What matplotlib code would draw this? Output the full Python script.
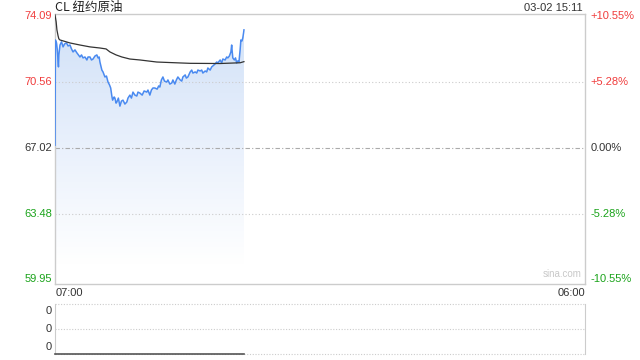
import numpy as np
import matplotlib.pyplot as plt
from matplotlib.colors import LinearSegmentedColormap

plt.rcParams['font.family'] = ['Noto Sans CJK SC', 'DejaVu Sans']
NUM_FONT = ['Liberation Sans', 'DejaVu Sans']

# minutes since 07:00 and last price
minutes = [0, 1, 4, 6, 9, 10, 13, 17, 21, 25, 30, 34, 39, 43, 47, 52, 57, 61, 65, 69,
           73, 78, 83, 86, 91, 95, 99, 104, 109, 112, 115, 117, 122, 125, 130, 134, 138,
           142, 145, 148, 150, 154, 156, 159, 161, 165, 169, 173, 177, 182, 187, 190, 195,
           199, 203, 208, 213, 216, 221, 227, 232, 239, 242, 247, 251, 255, 260, 266, 270,
           273, 277, 281, 285, 291, 294, 299, 304, 307, 312, 316, 320, 326, 330, 333, 339,
           342, 346, 352, 356, 359, 365, 369, 372, 378, 382, 385, 391, 395, 398, 404, 408,
           411, 417, 421, 424, 430, 434, 437, 443, 447, 450, 454, 458, 460, 461, 463, 467,
           470, 473, 476, 479, 482, 484, 487, 489, 491, 492]
price = [67.18, 72.81, 72.65, 72.28, 71.37, 72.01, 72.54, 72.71, 72.44, 72.60, 72.65, 72.49,
         72.54, 72.33, 72.17, 72.28, 72.12, 72.01, 71.90, 72.01, 71.85, 71.90, 71.74, 71.90,
         71.90, 71.74, 71.79, 71.95, 72.01, 71.85, 71.90, 71.63, 71.20, 71.10, 70.83, 70.88,
         70.56, 70.40, 70.24, 69.81, 69.59, 69.76, 69.70, 69.43, 69.49, 69.70, 69.27, 69.54,
         69.59, 69.38, 69.49, 69.70, 69.86, 69.70, 70.02, 69.86, 69.81, 70.02, 69.97, 69.86,
         70.08, 70.02, 70.13, 69.86, 70.13, 70.24, 70.24, 70.18, 70.35, 70.29, 70.67, 70.83,
         70.61, 70.56, 70.67, 70.45, 70.51, 70.67, 70.45, 70.67, 70.83, 70.67, 70.61, 70.83,
         70.94, 70.77, 70.83, 71.10, 71.20, 71.04, 71.10, 71.04, 71.20, 71.15, 71.20, 71.04,
         71.15, 71.10, 71.31, 71.20, 71.37, 71.42, 71.53, 71.63, 71.58, 71.74, 71.58, 71.79,
         71.74, 71.90, 71.85, 71.95, 72.17, 72.54, 72.28, 71.85, 71.74, 71.85, 71.58, 71.69,
         71.63, 72.28, 72.81, 72.76, 72.92, 73.19, 73.35]

# average price line
avg_minutes = [0, 3, 5, 8, 10, 13, 39, 65, 91, 117, 133, 143, 159, 174, 195, 221, 265,
               326, 352, 430, 482, 492]
avg_price = [74.15, 73.78, 73.35, 73.03, 72.87, 72.81, 72.65, 72.54, 72.44, 72.38, 72.33,
             72.17, 72.01, 71.90, 71.79, 71.74, 71.63, 71.58, 71.56, 71.55, 71.59, 71.65]

prev_close = 67.02
left_ticks = [74.09, 70.56, 67.02, 63.48, 59.95]
right_labels = ['+10.55%', '+5.28%', '0.00%', '-5.28%', '-10.55%']
tick_colors = ['#f03c3c', '#f03c3c', '#333333', '#1aa31a', '#1aa31a']

fig = plt.figure(figsize=(6.4, 3.6), dpi=100)
ax = fig.add_axes([55 / 640, 1 - 284 / 360, 530 / 640, 270 / 360])
ax.set_xlim(0, 1380)
ax.set_ylim(59.75, 74.2)

# gradient fill under the price line
base = 60.8
poly = ax.fill_between(minutes, price, base, color='none', lw=0)
cmap = LinearSegmentedColormap.from_list('fade', ['#ffffff', '#eaf1fc', '#d4e3f8'])
grad = np.linspace(0, 1, 256).reshape(-1, 1)
img = ax.imshow(grad, cmap=cmap, aspect='auto', origin='lower',
                extent=[0, max(minutes), base, 73.0], zorder=1)
img.set_clip_path(poly.get_paths()[0], transform=ax.transData)
ax.set_xlim(0, 1380)
ax.set_ylim(59.75, 74.2)

ax.plot(minutes, price, color='#4a8af0', lw=1.1, zorder=3)
ax.plot(avg_minutes, avg_price, color='#333333', lw=0.9, zorder=4)

ax.axhline(prev_close, color='#aaaaaa', lw=0.8, ls=(0, (4, 2, 1, 2)), zorder=2)
for v in [70.56, 63.48]:
    ax.axhline(v, color='#cccccc', lw=0.8, ls=(0, (1, 2)), zorder=2)

for s in ax.spines.values():
    s.set_color('#cccccc')
    s.set_linewidth(1)
ax.set_xticks([])
ax.set_yticks([])

# side labels
for i, (v, lab, c) in enumerate(zip(left_ticks, right_labels, tick_colors)):
    va = 'center'
    yv = v
    if i == 0:
        va = 'top'
        yv = v + 0.25
    elif i == 4:
        va = 'bottom'
        yv = v - 0.2
    ax.text(-8, yv, f'{v:.2f}', color=c, fontsize=8, ha='right', va=va, family=NUM_FONT)
    ax.text(1395, yv, lab, color=c, fontsize=8, ha='left', va=va, family=NUM_FONT)

fig.text(55 / 640, 1 - 8 / 360, 'CL 纽约原油', fontsize=9, color='#222222', va='center')
fig.text(583 / 640, 1 - 8 / 360, '03-02 15:11', fontsize=8, color='#333333',
         va='center', ha='right', family=NUM_FONT)
ax.text(1370, 60.0, 'sina.com', fontsize=7, color='#c8c8c8', ha='right', va='bottom',
        family=NUM_FONT)
fig.text(56 / 640, 1 - 293 / 360, '07:00', fontsize=8, color='#333333', va='center',
         family=NUM_FONT)
fig.text(585 / 640, 1 - 293 / 360, '06:00', fontsize=8, color='#333333', va='center',
         ha='right', family=NUM_FONT)

# volume panel
vol_minutes = [0, 492]
vol = [0, 0]
vax = fig.add_axes([55 / 640, 1 - 354 / 360, 530 / 640, 50 / 360])
vax.set_xlim(0, 1380)
vax.set_ylim(0, 1)
vax.plot(vol_minutes, vol, color='#555555', lw=1.2, clip_on=False, zorder=3)
for s in ['left', 'right']:
    vax.spines[s].set_color('#cccccc')
for s in ['top', 'bottom']:
    vax.spines[s].set_visible(False)
for yv in [1, 0.5, 0]:
    vax.axhline(yv, color='#cccccc', lw=0.8, ls=(0, (1, 1.5)), clip_on=False)
vax.set_xticks([])
vax.set_yticks([])
for yv, off in zip([1, 0.5, 0], [-0.13, 0, 0.13]):
    vax.text(-8, yv + off, '0', fontsize=8, color='#333333', ha='right', va='center',
             family=NUM_FONT)

fig.savefig('out.png', dpi=100)
